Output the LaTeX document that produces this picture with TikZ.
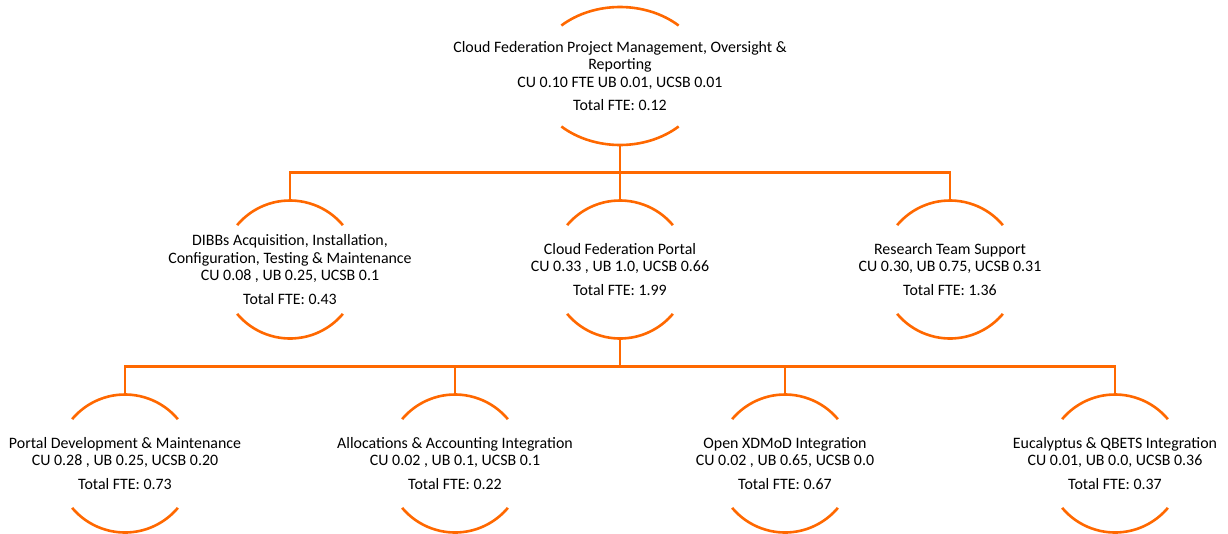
\documentclass[tikz,border=0pt]{standalone}
\usepackage{fontspec}
\setmainfont{Carlito}
\usetikzlibrary{calc}
\definecolor{fedorange}{RGB}{255,104,0}

% arcs above and below a text node, plus its top/bottom points
\newcommand\ringarcs[4]{%
  \draw[ring] ([shift={(#2:#3 and #4)}]#1.center) arc[start angle=#2, end angle=180-#2, x radius=#3, y radius=#4];
  \draw[ring] ([shift={(180+#2:#3 and #4)}]#1.center) arc[start angle=180+#2, end angle=360-#2, x radius=#3, y radius=#4];
  \coordinate (#1-n) at ([yshift=#4]#1.center);
  \coordinate (#1-s) at ([yshift=-#4]#1.center);
}

\begin{document}
\begin{tikzpicture}[x=1pt,y=-1pt,
    ring/.style={draw=fedorange, line width=2.6pt},
    link/.style={draw=fedorange, line width=2.6pt},
    lbl/.style={align=center, inner sep=0pt, font=\fontsize{15.9}{17.6}\selectfont}]
  \useasboundingbox (0,0) rectangle (1228,533);

  \node[lbl] (top) at (620,76) {Cloud Federation Project Management, Oversight \&\\Reporting\\CU 0.10 FTE UB 0.01, UCSB 0.01\\[6pt]Total FTE: 0.12};

  \node[lbl] (dibbs) at (290,269.5) {DIBBs Acquisition, Installation,\\Configuration, Testing \& Maintenance\\CU 0.08 , UB 0.25, UCSB 0.1\\[6pt]Total FTE: 0.43};
  \node[lbl] (portal) at (620,269.5) {Cloud Federation Portal\\CU 0.33 , UB 1.0, UCSB 0.66\\[6pt]Total FTE: 1.99};
  \node[lbl] (research) at (950,269.5) {Research Team Support\\CU 0.30, UB 0.75, UCSB 0.31\\[6pt]Total FTE: 1.36};

  \node[lbl] (dev) at (125,463.5) {Portal Development \& Maintenance\\CU 0.28 , UB 0.25, UCSB 0.20\\[6pt]Total FTE: 0.73};
  \node[lbl] (alloc) at (455,463.5) {Allocations \& Accounting Integration\\CU 0.02 , UB 0.1, UCSB 0.1\\[6pt]Total FTE: 0.22};
  \node[lbl] (xdmod) at (785,463.5) {Open XDMoD Integration\\CU 0.02 , UB 0.65, UCSB 0.0\\[6pt]Total FTE: 0.67};
  \node[lbl] (euca) at (1115,463.5) {Eucalyptus \& QBETS Integration\\CU 0.01, UB 0.0, UCSB 0.36\\[6pt]Total FTE: 0.37};

  \ringarcs{top}{47}{86pt}{69pt}
  \foreach \n in {dibbs,portal,research,dev,alloc,xdmod,euca} {\ringarcs{\n}{40}{69pt}{69pt}}

  % level 1 -> level 2
  \coordinate (bar1) at ($(top-s)!.5!(portal-n)$);
  \draw[link] (top-s) -- (portal-n);
  \draw[link] (dibbs-n) |- (bar1) -| (research-n);

  % level 2 -> level 3
  \coordinate (bar2) at ($(portal-s)!.5!(portal-s |- dev-n)$);
  \draw[link] (portal-s) -- (bar2);
  \draw[link] (dev-n) |- (bar2) -| (euca-n);
  \draw[link] (alloc-n) -- (alloc-n |- bar2);
  \draw[link] (xdmod-n) -- (xdmod-n |- bar2);
\end{tikzpicture}
\end{document}
